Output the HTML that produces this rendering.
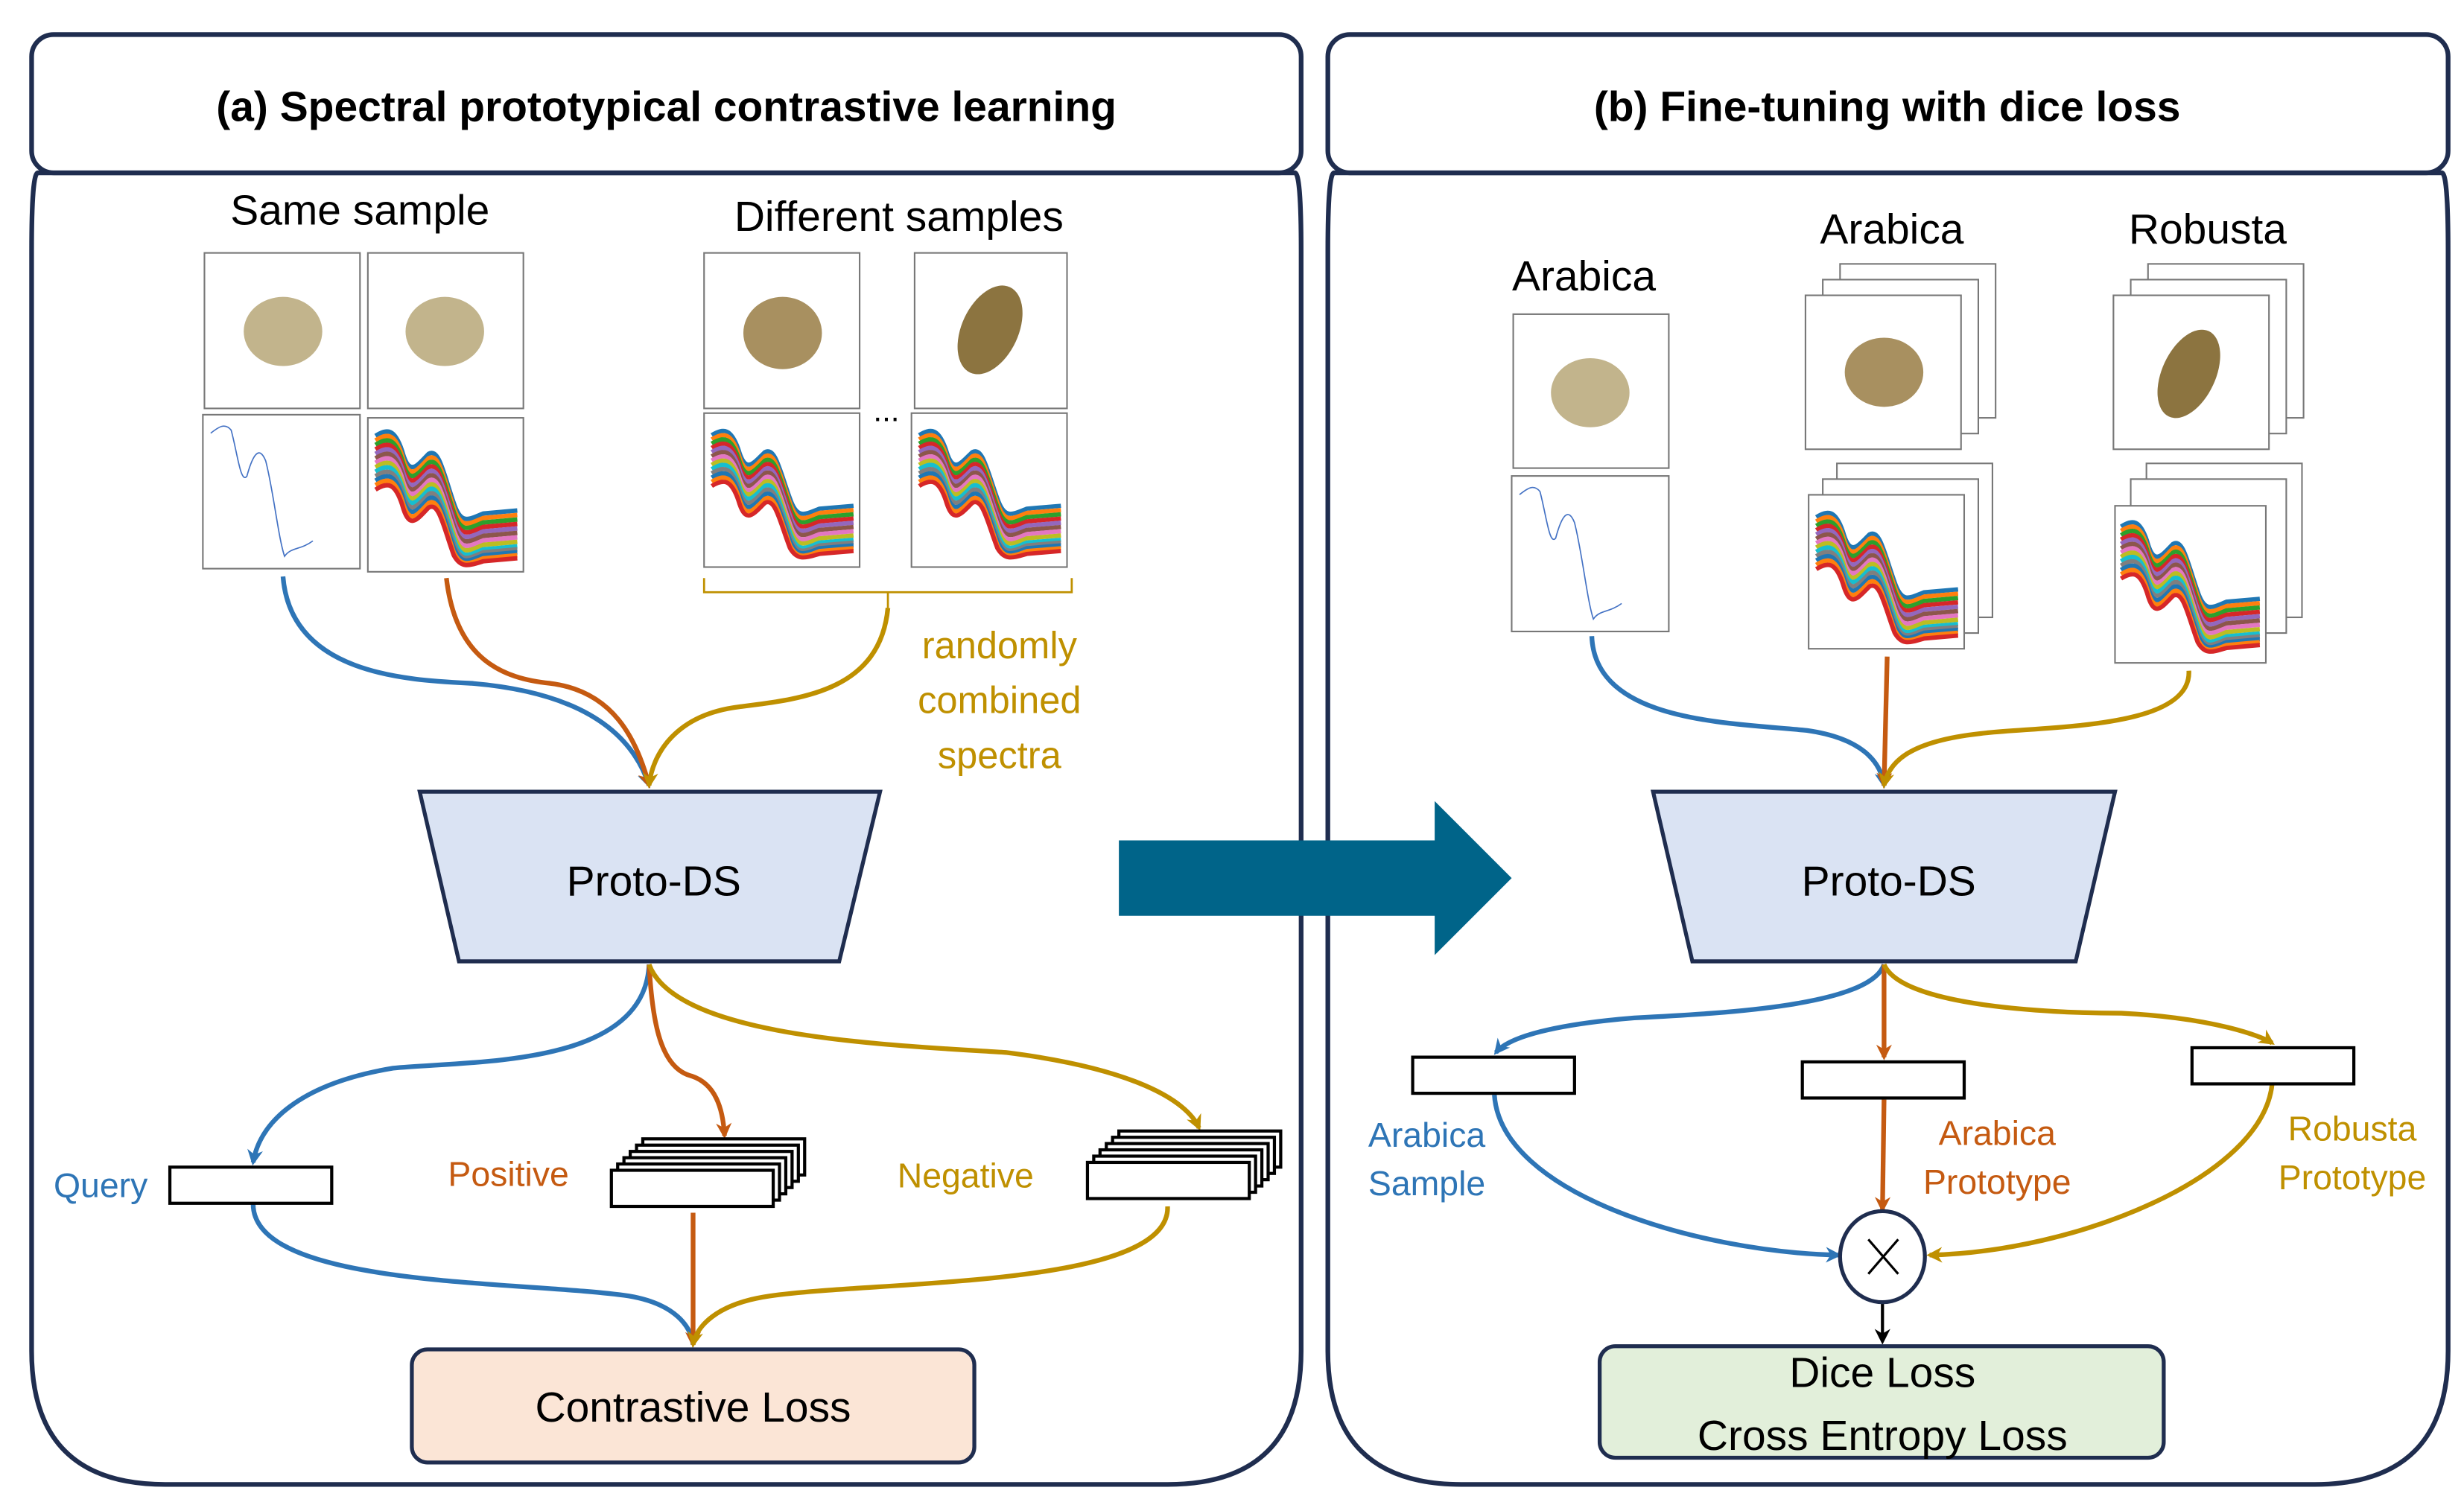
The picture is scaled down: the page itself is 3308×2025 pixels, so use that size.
<!DOCTYPE html>
<html><head><meta charset="utf-8"><style>html,body{margin:0;padding:0;background:#fff}svg{display:block}text{font-family:"Liberation Sans",sans-serif}</style></head><body>
<svg width="3308" height="2025" viewBox="0 0 1568 960" xmlns="http://www.w3.org/2000/svg">
<defs>
<marker id="mb" markerWidth="10" markerHeight="10" refX="8" refY="5" orient="auto" markerUnits="userSpaceOnUse"><path d="M0,0 L10,5 L0,10 L3,5 z" fill="#2e75b6"/></marker>
<marker id="mo" markerWidth="10" markerHeight="10" refX="8" refY="5" orient="auto" markerUnits="userSpaceOnUse"><path d="M0,0 L10,5 L0,10 L3,5 z" fill="#c55a11"/></marker>
<marker id="mg" markerWidth="10" markerHeight="10" refX="8" refY="5" orient="auto" markerUnits="userSpaceOnUse"><path d="M0,0 L10,5 L0,10 L3,5 z" fill="#bf9000"/></marker>
<marker id="mk" markerWidth="10" markerHeight="10" refX="8" refY="5" orient="auto" markerUnits="userSpaceOnUse"><path d="M0,0 L10,5 L0,10 L3,5 z" fill="#000"/></marker>
<symbol id="spec" viewBox="0 0 100 100" preserveAspectRatio="none">
<g fill="none" stroke-width="3">
<path d="M2,10 C10,5 15,5 20,20 C25,38 30,30 38,22 C45,18 48,35 55,55 C60,70 65,66 75,62 L98,60" stroke="#1f77b4"/>
<path d="M2,13 C10,8 15,8 20,23 C25,41 30,33 38,25 C45,21 48,38 55,58 C60,73 65,69 75,65 L98,63" stroke="#ff7f0e"/>
<path d="M2,16 C10,11 15,11 20,26 C25,44 30,36 38,28 C45,24 48,41 55,61 C60,76 65,72 75,68 L98,66" stroke="#2ca02c"/>
<path d="M2,19 C10,14 15,14 20,29 C25,47 30,39 38,31 C45,27 48,44 55,64 C60,79 65,75 75,71 L98,69" stroke="#d62728"/>
<path d="M2,22 C10,17 15,17 20,32 C25,50 30,42 38,34 C45,30 48,47 55,67 C60,82 65,78 75,74 L98,72" stroke="#9467bd"/>
<path d="M2,25 C10,20 15,20 20,35 C25,53 30,45 38,37 C45,33 48,50 55,70 C60,85 65,81 75,77 L98,75" stroke="#8c564b"/>
<path d="M2,28 C10,23 15,23 20,38 C25,56 30,48 38,40 C45,36 48,53 55,73 C60,88 65,84 75,80 L98,78" stroke="#e377c2"/>
<path d="M2,31 C10,26 15,26 20,41 C25,59 30,51 38,43 C45,39 48,56 55,76 C60,91 65,87 75,83 L98,81" stroke="#bcbd22"/>
<path d="M2,34 C10,29 15,29 20,44 C25,62 30,54 38,46 C45,42 48,59 55,79 C60,94 65,90 75,86 L98,84" stroke="#17becf"/>
<path d="M2,37 C10,32 15,32 20,47 C25,65 30,57 38,49 C45,45 48,62 55,82 C60,96 65,92 75,88 L98,86" stroke="#7f7f7f"/>
<path d="M2,40 C10,35 15,35 20,50 C25,68 30,60 38,52 C45,48 48,65 55,85 C60,97 65,94 75,90 L98,88" stroke="#1f77b4"/>
<path d="M2,43 C10,38 15,38 20,53 C25,71 30,63 38,55 C45,51 48,68 55,88 C60,98 65,96 75,92 L98,90" stroke="#ff7f0e"/>
<path d="M2,46 C10,41 15,41 20,56 C25,74 30,66 38,58 C45,54 48,71 55,90 C60,99 65,97 75,94 L98,92" stroke="#d62728"/>
</g></symbol>
<symbol id="one" viewBox="0 0 100 100" preserveAspectRatio="none">
<path d="M5,12 C10,8 14,5 18,10 C22,25 24,45 28,40 C32,25 36,20 40,30 C45,50 48,80 52,92 C56,86 62,88 70,82" fill="none" stroke="#4472c4" stroke-width="0.8"/></symbol>
</defs>
<g stroke="#1f2d4f" stroke-width="3" fill="#fff">
<path d="M24,110 L824,110 Q828,110 828,160 L828,860 Q828,945 743,945 L105,945 Q20,945 20,860 L20,160 Q20,110 24,110 z"/>
<rect x="20" y="22" width="808" height="88" rx="14"/>
<path d="M849,110 L1554,110 Q1558,110 1558,160 L1558,860 Q1558,945 1473,945 L930,945 Q845,945 845,860 L845,160 Q845,110 849,110 z"/>
<rect x="845" y="22" width="713" height="88" rx="14"/>
</g>
<text x="424" y="77" font-size="27" font-weight="bold" text-anchor="middle">(a) Spectral prototypical contrastive learning</text>
<text x="1201" y="77" font-size="27" font-weight="bold" text-anchor="middle">(b) Fine-tuning with dice loss</text>
<text x="229" y="143" font-size="27" text-anchor="middle">Same sample</text>
<text x="572" y="147" font-size="27" text-anchor="middle">Different samples</text>
<g fill="#fff" stroke="#777" stroke-width="1">
<rect x="130" y="161" width="99" height="99"/><rect x="234" y="161" width="99" height="99"/>
<rect x="448" y="161" width="99" height="99"/><rect x="582" y="161" width="97" height="99"/>
<rect x="129" y="264" width="100" height="98"/><rect x="234" y="266" width="99" height="98"/>
<rect x="448" y="263" width="99" height="98"/><rect x="580" y="263" width="99" height="98"/>
</g>
<g fill="#c2b48c"><ellipse cx="180" cy="211" rx="25" ry="22"/><ellipse cx="283" cy="211" rx="25" ry="22"/></g>
<ellipse cx="498" cy="212" rx="25" ry="23" fill="#a89060"/>
<ellipse cx="630" cy="210" rx="18" ry="30" transform="rotate(25 630 210)" fill="#8c7440"/>
<text x="564" y="268" font-size="20" text-anchor="middle">...</text>
<use href="#one" x="129" y="264" width="100" height="98"/>
<use href="#spec" x="237" y="268" width="94" height="95"/>
<use href="#spec" x="451" y="268" width="94" height="90"/>
<use href="#spec" x="583" y="268" width="94" height="90"/>
<path d="M448,368 L448,377 L565,377 L565,387 M565,377 L682,377 L682,368" fill="none" stroke="#bf9000" stroke-width="1.3"/>
<g font-size="24" fill="#bf9000" text-anchor="middle"><text x="636" y="419">randomly</text><text x="636" y="454">combined</text><text x="636" y="489">spectra</text></g>
<g fill="none" stroke-width="3">
<path d="M180,367 C185,430 260,433 300,435 C360,440 400,460 413,500" stroke="#2e75b6" marker-end="url(#mb)"/>
<path d="M284,368 C290,420 320,432 350,435 C390,440 405,470 413,500" stroke="#c55a11" marker-end="url(#mo)"/>
<path d="M565,387 C560,440 510,445 470,450 C430,455 415,480 413,500" stroke="#bf9000" marker-end="url(#mg)"/>
</g>
<path d="M267,504 L560,504 L534,612 L292,612 z" fill="#dae3f3" stroke="#1f2d4f" stroke-width="2.5"/>
<text x="416" y="570" font-size="27" text-anchor="middle">Proto-DS</text>
<path d="M712,535 L913,535 L913,510 L962,559 L913,608 L913,583 L712,583 z" fill="#006489"/>
<g fill="none" stroke-width="3">
<path d="M413,614 C410,680 300,675 250,680 C190,690 165,715 161,740" stroke="#2e75b6" marker-end="url(#mb)"/>
<path d="M413,614 C415,650 420,680 440,685 C455,690 460,705 461,723" stroke="#c55a11" marker-end="url(#mo)"/>
<path d="M413,614 C430,660 560,665 640,670 C720,680 755,700 763,718" stroke="#bf9000" marker-end="url(#mg)"/>
<path d="M161,766 C160,820 330,815 400,825 C430,830 440,845 441,856" stroke="#2e75b6"/>
<path d="M441,772 L441,856" stroke="#c55a11" marker-end="url(#mo)"/>
<path d="M743,768 C745,820 560,815 490,825 C455,830 443,845 441,856" stroke="#bf9000" marker-end="url(#mg)"/>
</g>
<g fill="#fff" stroke="#000" stroke-width="2">
<rect x="108" y="743" width="103" height="23"/>
<rect x="409" y="725" width="103" height="23"/><rect x="405" y="729" width="103" height="23"/><rect x="401" y="733" width="103" height="23"/><rect x="397" y="737" width="103" height="23"/><rect x="393" y="741" width="103" height="23"/><rect x="389" y="745" width="103" height="23"/>
<rect x="712" y="720" width="103" height="23"/><rect x="708" y="724" width="103" height="23"/><rect x="704" y="728" width="103" height="23"/><rect x="700" y="732" width="103" height="23"/><rect x="696" y="736" width="103" height="23"/><rect x="692" y="740" width="103" height="23"/>
</g>
<text x="34" y="762" font-size="22" fill="#2e75b6">Query</text>
<text x="285" y="755" font-size="22" fill="#c55a11">Positive</text>
<text x="571" y="756" font-size="22" fill="#bf9000">Negative</text>
<rect x="262" y="859" width="358" height="72" rx="10" fill="#fbe5d6" stroke="#1f2d4f" stroke-width="2.5"/>
<text x="441" y="905" font-size="27" text-anchor="middle">Contrastive Loss</text>
<g font-size="27" text-anchor="middle"><text x="1008" y="185">Arabica</text><text x="1204" y="155">Arabica</text><text x="1405" y="155">Robusta</text></g>
<g fill="#fff" stroke="#777" stroke-width="1">
<rect x="963" y="200" width="99" height="98"/><rect x="962" y="303" width="100" height="99"/>
<rect x="1171" y="168" width="99" height="98"/><rect x="1160" y="178" width="99" height="98"/><rect x="1149" y="188" width="99" height="98"/>
<rect x="1367" y="168" width="99" height="98"/><rect x="1356" y="178" width="99" height="98"/><rect x="1345" y="188" width="99" height="98"/>
<rect x="1169" y="295" width="99" height="98"/><rect x="1160" y="305" width="99" height="98"/><rect x="1151" y="315" width="99" height="98"/>
<rect x="1366" y="295" width="99" height="98"/><rect x="1356" y="305" width="99" height="98"/><rect x="1346" y="322" width="96" height="100"/>
</g>
<ellipse cx="1012" cy="250" rx="25" ry="22" fill="#c2b48c"/>
<ellipse cx="1199" cy="237" rx="25" ry="22" fill="#a89060"/>
<ellipse cx="1393" cy="238" rx="17" ry="30" transform="rotate(25 1393 238)" fill="#8c7440"/>
<use href="#one" x="962" y="303" width="100" height="99"/>
<use href="#spec" x="1154" y="320" width="94" height="92"/>
<use href="#spec" x="1348" y="326" width="92" height="92"/>
<g fill="none" stroke-width="3">
<path d="M1013,405 C1015,460 1100,460 1150,465 C1185,470 1197,485 1199,500" stroke="#2e75b6" marker-end="url(#mb)"/>
<path d="M1201,418 L1199,500" stroke="#c55a11" marker-end="url(#mo)"/>
<path d="M1393,427 C1395,465 1300,462 1260,467 C1215,472 1202,485 1199,500" stroke="#bf9000" marker-end="url(#mg)"/>
</g>
<path d="M1052,504 L1346,504 L1321,612 L1077,612 z" fill="#dae3f3" stroke="#1f2d4f" stroke-width="2.5"/>
<text x="1202" y="570" font-size="27" text-anchor="middle">Proto-DS</text>
<g fill="none" stroke-width="3">
<path d="M1199,614 C1190,640 1100,645 1040,648 C990,652 960,660 952,670" stroke="#2e75b6" marker-end="url(#mb)"/>
<path d="M1199,614 L1199,673" stroke="#c55a11" marker-end="url(#mo)"/>
<path d="M1199,614 C1210,640 1300,645 1350,645 C1410,648 1440,660 1446,664" stroke="#bf9000" marker-end="url(#mg)"/>
<path d="M951,697 C955,760 1080,797 1170,799" stroke="#2e75b6" marker-end="url(#mb)"/>
<path d="M1199,700 L1198,770" stroke="#c55a11" marker-end="url(#mo)"/>
<path d="M1446,690 C1440,750 1320,797 1228,799" stroke="#bf9000" marker-end="url(#mg)"/>
<path d="M1198,828 L1198,854" stroke="#000" stroke-width="2" marker-end="url(#mk)"/>
</g>
<g fill="#fff" stroke="#000" stroke-width="2">
<rect x="899" y="673" width="103" height="23"/><rect x="1147" y="676" width="103" height="23"/><rect x="1395" y="667" width="103" height="23"/>
</g>
<g font-size="22">
<text x="908" y="730" fill="#2e75b6" text-anchor="middle">Arabica</text><text x="908" y="761" fill="#2e75b6" text-anchor="middle">Sample</text>
<text x="1271" y="729" fill="#c55a11" text-anchor="middle">Arabica</text><text x="1271" y="760" fill="#c55a11" text-anchor="middle">Prototype</text>
<text x="1497" y="726" fill="#bf9000" text-anchor="middle">Robusta</text><text x="1497" y="757" fill="#bf9000" text-anchor="middle">Prototype</text>
</g>
<ellipse cx="1198" cy="800" rx="27" ry="29" fill="#fff" stroke="#1f2d4f" stroke-width="2.5"/>
<path d="M1189,789 L1208,811 M1208,789 L1189,811" stroke="#000" stroke-width="1.5"/>
<rect x="1018" y="857" width="359" height="71" rx="10" fill="#e2efda" stroke="#1f2d4f" stroke-width="2.5"/>
<text x="1198" y="883" font-size="27" text-anchor="middle">Dice Loss</text>
<text x="1198" y="923" font-size="27" text-anchor="middle">Cross Entropy Loss</text>
</svg>
</body></html>
